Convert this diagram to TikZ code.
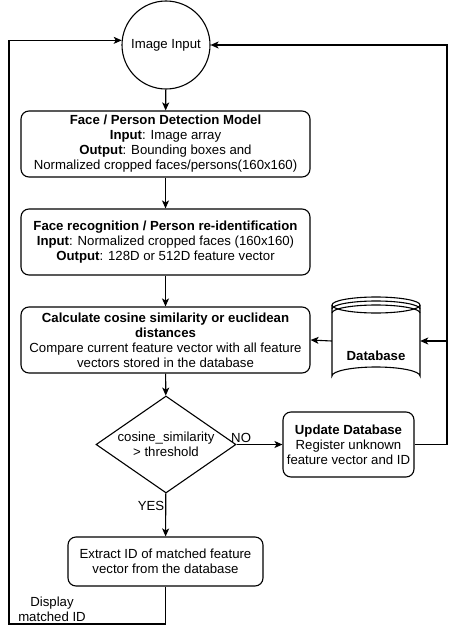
\documentclass[tikz,border=0pt]{standalone}
\usepackage{fontspec}
\setmainfont{Liberation Sans}
\usetikzlibrary{shapes.geometric,arrows.meta}
\tikzstyle{cimg}=[circle, draw, line width=1.1pt, minimum size=88pt, inner sep=0pt]
\tikzstyle{pbox}=[rectangle, rounded corners=8pt, draw, line width=1.1pt, align=center, inner sep=1pt]
\tikzstyle{cdec}=[diamond, draw, line width=1.1pt, aspect=1.44, inner sep=0pt, minimum width=140pt, minimum height=97pt, align=center]
\tikzstyle{flow}=[line width=1.1pt, -{Stealth[length=8pt,width=7pt,inset=2pt]}]
\tikzstyle{line}=[line width=1.1pt]

\begin{document}
\begin{tikzpicture}[x=1pt, y=-1pt, font=\fontsize{13.2}{15}\selectfont]
\useasboundingbox (0,0) rectangle (457,637);

\node[cimg] (img) at (166,45) {Image Input};
\node[pbox, minimum width=289pt, minimum height=66pt] (det) at (165.5,144) {\textbf{Face / Person Detection Model}\\\textbf{Input}: Image array\\\textbf{Output}: Bounding boxes and\\Normalized cropped faces/persons(160x160)};
\node[pbox, minimum width=289pt, minimum height=66pt] (rec) at (165.5,242) {\textbf{Face recognition / Person re-identification}\\\textbf{Input}: Normalized cropped faces (160x160)\\\textbf{Output}: 128D or 512D feature vector};
\node[pbox, minimum width=289pt, minimum height=66pt] (cmp) at (165.5,340) {\textbf{Calculate cosine similarity or euclidean}\\\textbf{distances}\\Compare current feature vector with all feature\\vectors stored in the database};
\node[cdec] (dec) at (166,444.5) {cosine\_similarity\\> threshold};
\node[pbox, minimum width=131pt, minimum height=65pt] (upd) at (348.5,444.5) {\textbf{Update Database}\\Register unknown\\feature vector and ID};
\node[pbox, minimum width=195pt, minimum height=49pt] (ext) at (165.5,561.5) {Extract ID of matched feature\\vector from the database};

% database drum
\node[minimum width=88pt, minimum height=89pt, inner sep=0pt] (db) at (376,341) {};
\draw[line] (332,305) -- (332,376) arc[start angle=180, end angle=360, x radius=44, y radius=9] -- (420,305);
\draw[line] (376,305) ellipse[x radius=44, y radius=8];
\draw[line] (332,309) arc[start angle=180, end angle=360, x radius=44, y radius=8];
\draw[line] (332,313) arc[start angle=180, end angle=360, x radius=44, y radius=8];
\node at (376,356) {\textbf{Database}};

\coordinate (rt) at (447,45);
\coordinate (rdb) at (447,341);
\coordinate (lb) at (9,624);

\draw[flow] (img) -- (det);
\draw[flow] (det) -- (rec);
\draw[flow] (rec) -- (cmp);
\draw[flow] (cmp) -- (dec);
\draw[flow] (dec) -- (ext) node[pos=0.3, left, inner sep=1pt] {YES};
\draw[flow] (dec) -- (upd) node[pos=0.1, above, inner sep=1pt] {NO};
\draw[flow] (upd.east) -| (rt) -- (img.east);
\draw[flow] (rdb) -- (db.east);
\draw[flow] (db.west) -- (cmp.east);
\draw[flow] (ext.south) |- (lb) |- (img.174);
\node[align=center] (disp) at (52,609) {Display\\matched ID};

\end{tikzpicture}
\end{document}
